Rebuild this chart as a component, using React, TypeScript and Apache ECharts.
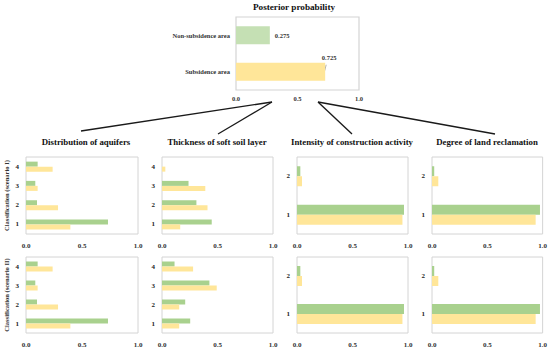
import React, { useEffect, useRef } from "react";
import * as echarts from "echarts";

const FONT = "Liberation Serif";

const posteriorCategories = ["Subsidence area", "Non-subsidence area"];
const posteriorValues = [0.725, 0.275];

const factorTitles = [
  "Distribution of aquifers",
  "Thickness of soft soil layer",
  "Intensity of construction activity",
  "Degree of land reclamation",
];
const scenarioNames = ["Classification (scenario I)", "Classification (scenario II)"];

const classes4 = ["1", "2", "3", "4"];
const classes2 = ["1", "2"];
const xTicks = ["0.0", "0.5", "1.0"];

// Scenario I  (sub = subsidence area / yellow, non = non-subsidence area / green)
const aquifersI_sub = [0.396, 0.286, 0.104, 0.238];
const aquifersI_non = [0.732, 0.098, 0.083, 0.104];
const softSoilI_sub = [0.164, 0.41, 0.39, 0.03];
const softSoilI_non = [0.448, 0.31, 0.239, 0];
const constructionI_sub = [0.95, 0.045];
const constructionI_non = [0.964, 0.03];
const reclamationI_sub = [0.937, 0.057];
const reclamationI_non = [0.976, 0.02];

// Scenario II
const aquifersII_sub = [0.396, 0.286, 0.104, 0.238];
const aquifersII_non = [0.732, 0.098, 0.083, 0.104];
const softSoilII_sub = [0.155, 0.155, 0.493, 0.28];
const softSoilII_non = [0.254, 0.209, 0.427, 0.113];
const constructionII_sub = [0.95, 0.045];
const constructionII_non = [0.964, 0.03];
const reclamationII_sub = [0.937, 0.057];
const reclamationII_non = [0.976, 0.02];

const YELLOW = "#ffe699";
const GREEN = "#a9d18e";
const LIGHT_GREEN = "#c5e0b4";
const BORDER = "#d4d4d4";

export default function App() {
  const ref = useRef<HTMLDivElement>(null);

  useEffect(() => {
    if (!ref.current) return;
    const chart = echarts.init(ref.current, undefined, { renderer: "svg" });

    const subPanels = [
      { cats: classes4, sub: aquifersI_sub, non: aquifersI_non },
      { cats: classes4, sub: softSoilI_sub, non: softSoilI_non },
      { cats: classes2, sub: constructionI_sub, non: constructionI_non },
      { cats: classes2, sub: reclamationI_sub, non: reclamationI_non },
      { cats: classes4, sub: aquifersII_sub, non: aquifersII_non },
      { cats: classes4, sub: softSoilII_sub, non: softSoilII_non },
      { cats: classes2, sub: constructionII_sub, non: constructionII_non },
      { cats: classes2, sub: reclamationII_sub, non: reclamationII_non },
    ];

    const colLeft = [26, 162, 297, 432];
    const colWidth = [112, 111, 111, 112];
    const rowTop = [157, 257];
    const rowHeight = [77, 76];

    const grids: any[] = [
      { left: 236, top: 17, width: 123, height: 73, show: true, borderColor: BORDER, borderWidth: 1.2, containLabel: false },
    ];
    subPanels.forEach((_, i) => {
      const r = Math.floor(i / 4);
      const c = i % 4;
      grids.push({
        left: colLeft[c],
        top: rowTop[r],
        width: colWidth[c],
        height: rowHeight[r],
        show: true,
        borderColor: BORDER,
        borderWidth: 1,
        containLabel: false,
      });
    });

    const tickLabel = {
      fontFamily: FONT,
      fontWeight: "bold",
      fontSize: 7,
      color: "#333",
    };

    const xAxes: any[] = grids.map((_, gi) => ({
      type: "value",
      gridIndex: gi,
      min: 0,
      max: 1,
      interval: 0.5,
      axisLine: { show: false },
      axisTick: { show: false },
      splitLine: { show: false },
      axisLabel: {
        ...tickLabel,
        fontSize: gi === 0 ? 6.5 : 7,
        margin: gi === 0 ? 5 : 8,
        formatter: (v: number) => xTicks[Math.round(v * 2)] ?? v.toFixed(1),
      },
    }));

    const yAxes: any[] = [
      {
        type: "category",
        gridIndex: 0,
        data: posteriorCategories,
        axisLine: { show: false },
        axisTick: { show: false },
        axisLabel: { ...tickLabel, fontSize: 6.5, margin: 6 },
      },
    ];
    subPanels.forEach((p, i) => {
      const c = i % 4;
      const r = Math.floor(i / 4);
      yAxes.push({
        type: "category",
        gridIndex: i + 1,
        data: p.cats,
        axisLine: { show: false },
        axisTick: { show: false },
        axisLabel: { ...tickLabel, color: "#222", margin: 7 },
        name: c === 0 ? scenarioNames[r] : "",
        nameLocation: "middle",
        nameGap: 16,
        nameTextStyle: { fontFamily: FONT, fontWeight: "bold", fontSize: 6.5, color: "#333" },
      });
    });

    const series: any[] = [
      {
        type: "bar",
        xAxisIndex: 0,
        yAxisIndex: 0,
        barWidth: 18,
        data: posteriorValues.map((v, i) => ({
          value: v,
          itemStyle: { color: i === 0 ? YELLOW : LIGHT_GREEN },
          label:
            i === 0
              ? {
                  show: true,
                  position: ["100%", 0],
                  align: "center",
                  verticalAlign: "bottom",
                  offset: [4, -2],
                }
              : { show: true, position: "right", distance: 5 },
        })),
        label: {
          fontFamily: FONT,
          fontWeight: "bold",
          fontSize: 6.5,
          color: "#333",
          formatter: (p: any) => p.value.toFixed(3),
        },
      },
    ];
    subPanels.forEach((p, i) => {
      const bw = p.cats.length === 4 ? 5 : 10;
      // first series in a group is drawn on top (green), second below (yellow)
      series.push({
        type: "bar",
        xAxisIndex: i + 1,
        yAxisIndex: i + 1,
        barWidth: bw,
        barGap: "0%",
        itemStyle: { color: GREEN },
        data: p.non,
      });
      series.push({
        type: "bar",
        xAxisIndex: i + 1,
        yAxisIndex: i + 1,
        barWidth: bw,
        barGap: "0%",
        itemStyle: { color: YELLOW },
        data: p.sub,
      });
    });

    const titleCenters = [86, 217, 352, 487];
    const graphic: any[] = [
      {
        type: "text",
        x: 294,
        y: 2.5,
        style: {
          text: "Posterior probability",
          fontFamily: FONT,
          fontWeight: "bold",
          fontSize: 9.2,
          fill: "#111",
          align: "center",
          verticalAlign: "top",
        },
      },
    ];
    factorTitles.forEach((t, i) => {
      graphic.push({
        type: "text",
        x: titleCenters[i],
        y: 137.5,
        style: {
          text: t,
          fontFamily: FONT,
          fontWeight: "bold",
          fontSize: 8.8,
          fill: "#111",
          align: "center",
          verticalAlign: "top",
        },
      });
    });
    const connectors = [
      [81, 131, 272, 102],
      [218, 134, 272, 102],
      [352, 134, 318, 102],
      [495, 134, 318, 102],
    ];
    connectors.forEach(([x1, y1, x2, y2]) => {
      graphic.push({
        type: "line",
        shape: { x1, y1, x2, y2 },
        style: { stroke: "#1a1a1a", lineWidth: 1.3 },
      });
    });

    chart.setOption({
      animation: false,
      backgroundColor: "#fff",
      textStyle: { fontFamily: FONT },
      grid: grids,
      xAxis: xAxes,
      yAxis: yAxes,
      series,
      graphic,
    });

    // small leader line from the 0.725 label down into its bar
    const end = chart.convertToPixel({ gridIndex: 0 } as any, [posteriorValues[0], posteriorCategories[0]]);
    if (end) {
      graphic.push({
        type: "line",
        shape: { x1: end[0] + 1, y1: end[1] - 7, x2: end[0] - 0.5, y2: end[1] - 1 },
        style: { stroke: "#777", lineWidth: 0.6 },
      });
      chart.setOption({ graphic });
    }

    return () => chart.dispose();
  }, []);

  return (
    <div
      ref={ref}
      style={{ position: "fixed", left: 0, top: 0, width: 550, height: 348, background: "#fff" }}
    />
  );
}
